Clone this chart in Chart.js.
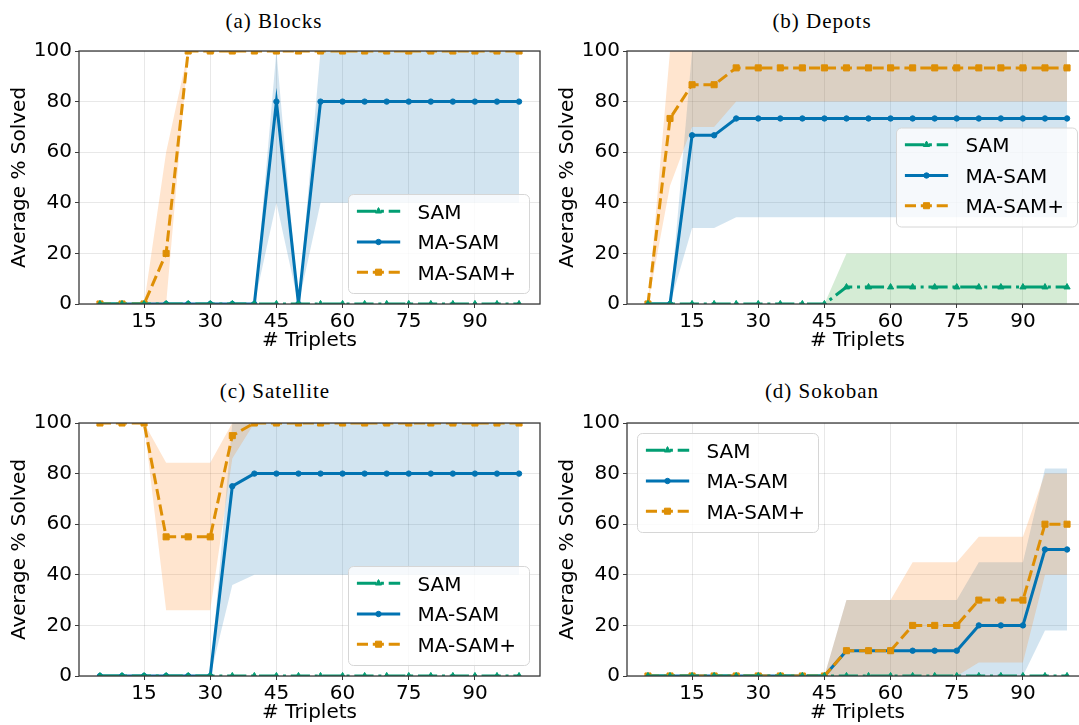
<!DOCTYPE html>
<html>
<head>
<meta charset="utf-8">
<script src="https://cdn.jsdelivr.net/npm/chart.js@4.4.1/dist/chart.umd.min.js"></script>
<style>
  html, body { margin: 0; padding: 0; background: #fff; width: 1079px; height: 725px; overflow: hidden; }
  canvas { position: absolute; }
  .ttl { position: absolute; width: 300px; text-align: center; font-family: 'Liberation Serif', serif; font-size: 21px; letter-spacing: 1px; line-height: 24px; color: #000; }
</style>
</head>
<body>
<div class="ttl" id="t0" style="left:124px; top:9px;"></div>
<div class="ttl" id="t1" style="left:672px; top:9px;"></div>
<div class="ttl" id="t2" style="left:125px; top:379px;"></div>
<div class="ttl" id="t3" style="left:672px; top:379px;"></div>
<canvas id="c0" width="560" height="325" style="left:0px; top:36px;"></canvas>
<canvas id="c1" width="560" height="325" style="left:548px; top:36px;"></canvas>
<canvas id="c2" width="560" height="325" style="left:0px; top:408px;"></canvas>
<canvas id="c3" width="560" height="325" style="left:548px; top:408px;"></canvas>
<script>
// ---------- data ----------
const xValues = [5, 10, 15, 20, 25, 30, 35, 40, 45, 50, 55, 60, 65, 70, 75, 80, 85, 90, 95, 100];
const xTickValues = [15, 30, 45, 60, 75, 90];
const yTickValues = [0, 20, 40, 60, 80, 100];
const seriesNames = ['SAM', 'MA-SAM', 'MA-SAM+'];
const panelTitles = ['(a) Blocks', '(b) Depots', '(c) Satellite', '(d) Sokoban'];
const xAxisTitle = '# Triplets';
const yAxisTitle = 'Average % Solved';

// (a) Blocks
const blocksSAM         = [0,0,0,0,0,0,0,0,0,0,0,0,0,0,0,0,0,0,0,0];
const blocksSAMLow      = [0,0,0,0,0,0,0,0,0,0,0,0,0,0,0,0,0,0,0,0];
const blocksSAMHigh     = [0,0,0,0,0,0,0,0,0,0,0,0,0,0,0,0,0,0,0,0];
const blocksMASAM       = [0,0,0,0,0,0,0,0,80,0,80,80,80,80,80,80,80,80,80,80];
const blocksMASAMLow    = [0,0,0,0,0,0,0,0,40,0,40,40,40,40,40,40,40,40,40,40];
const blocksMASAMHigh   = [0,0,0,0,0,0,0,0,100,0,100,100,100,100,100,100,100,100,100,100];
const blocksPlus        = [0,0,0,20,100,100,100,100,100,100,100,100,100,100,100,100,100,100,100,100];
const blocksPlusLow     = [0,0,0,0,100,100,100,100,100,100,100,100,100,100,100,100,100,100,100,100];
const blocksPlusHigh    = [0,0,0,60,100,100,100,100,100,100,100,100,100,100,100,100,100,100,100,100];

// (b) Depots
const depotsSAM         = [0,0,0,0,0,0,0,0,0,6.67,6.67,6.67,6.67,6.67,6.67,6.67,6.67,6.67,6.67,6.67];
const depotsSAMLow      = [0,0,0,0,0,0,0,0,0,0,0,0,0,0,0,0,0,0,0,0];
const depotsSAMHigh     = [0,0,0,0,0,0,0,0,0,20,20,20,20,20,20,20,20,20,20,20];
const depotsMASAM       = [0,0,66.67,66.67,73.33,73.33,73.33,73.33,73.33,73.33,73.33,73.33,73.33,73.33,73.33,73.33,73.33,73.33,73.33,73.33];
const depotsMASAMLow    = [0,0,30,30,34.3,34.3,34.3,34.3,34.3,34.3,34.3,34.3,34.3,34.3,34.3,34.3,34.3,34.3,34.3,34.3];
const depotsMASAMHigh   = [0,0,100,100,100,100,100,100,100,100,100,100,100,100,100,100,100,100,100,100];
const depotsPlus        = [0,73.33,86.67,86.67,93.33,93.33,93.33,93.33,93.33,93.33,93.33,93.33,93.33,93.33,93.33,93.33,93.33,93.33,93.33,93.33];
const depotsPlusLow     = [0,46.7,70,70,80,80,80,80,80,80,80,80,80,80,80,80,80,80,80,80];
const depotsPlusHigh    = [0,100,100,100,100,100,100,100,100,100,100,100,100,100,100,100,100,100,100,100];

// (c) Satellite
const satSAM            = [0,0,0,0,0,0,0,0,0,0,0,0,0,0,0,0,0,0,0,0];
const satSAMLow         = [0,0,0,0,0,0,0,0,0,0,0,0,0,0,0,0,0,0,0,0];
const satSAMHigh        = [0,0,0,0,0,0,0,0,0,0,0,0,0,0,0,0,0,0,0,0];
const satMASAM          = [0,0,0,0,0,0,75,80,80,80,80,80,80,80,80,80,80,80,80,80];
const satMASAMLow       = [0,0,0,0,0,0,36,40,40,40,40,40,40,40,40,40,40,40,40,40];
const satMASAMHigh      = [0,0,0,0,0,0,100,100,100,100,100,100,100,100,100,100,100,100,100,100];
const satPlus           = [100,100,100,55,55,55,95,100,100,100,100,100,100,100,100,100,100,100,100,100];
const satPlusLow        = [100,100,100,26,26,26,86,100,100,100,100,100,100,100,100,100,100,100,100,100];
const satPlusHigh       = [100,100,100,84.3,84.3,84.3,100,100,100,100,100,100,100,100,100,100,100,100,100,100];

// (d) Sokoban
const sokSAM            = [0,0,0,0,0,0,0,0,0,0,0,0,0,0,0,0,0,0,0,0];
const sokSAMLow         = [0,0,0,0,0,0,0,0,0,0,0,0,0,0,0,0,0,0,0,0];
const sokSAMHigh        = [0,0,0,0,0,0,0,0,0,0,0,0,0,0,0,0,0,0,0,0];
const sokMASAM          = [0,0,0,0,0,0,0,0,0,10,10,10,10,10,10,20,20,20,50,50];
const sokMASAMLow       = [0,0,0,0,0,0,0,0,0,0,0,0,0,0,0,0,0,0,18,18];
const sokMASAMHigh      = [0,0,0,0,0,0,0,0,0,30,30,30,30,30,30,45,45,45,82,82];
const sokPlus           = [0,0,0,0,0,0,0,0,0,10,10,10,20,20,20,30,30,30,60,60];
const sokPlusLow        = [0,0,0,0,0,0,0,0,0,0,0,0,0,0,0,5.3,5.3,5.3,40,40];
const sokPlusHigh       = [0,0,0,0,0,0,0,0,0,30,30,30,45,45,45,55,55,55,80,80];

const legendLocations = ['lower right', 'center right', 'lower right', 'upper left'];

// ---------- styles ----------
const LINE = { SAM: '#029e73', MASAM: '#0173b2', PLUS: '#de8f05' };
const BAND = { SAM: 'rgba(44,160,44,0.2)', MASAM: 'rgba(31,119,180,0.2)', PLUS: 'rgba(255,127,14,0.2)' };
const DASH = { SAM: [19.2, 4.8, 3, 4.8], MASAM: [], PLUS: [11.1, 4.8] };
const MARK = { SAM: ['triangle', 3.6], MASAM: ['circle', 2.7], PLUS: ['rect', 4.3] };
const LW = 3;
const FONT = 'DejaVu Sans';

const pts = arr => arr.map((v, i) => ({ x: xValues[i], y: v }));

function lineDS(key, label, arr) {
  return {
    label, data: pts(arr), borderColor: LINE[key], backgroundColor: LINE[key], borderWidth: LW,
    borderDash: DASH[key], pointStyle: MARK[key][0], pointRadius: MARK[key][1],
    pointBackgroundColor: LINE[key], pointBorderColor: LINE[key], pointBorderWidth: 1,
    fill: false, tension: 0, clip: 0, isLine: true
  };
}
function bandDS(key, lo, hi, loIndex) {
  return [
    { label: key + '-lo', data: pts(lo), borderWidth: 0, borderColor: 'rgba(0,0,0,0)', pointRadius: 0, fill: false, tension: 0, clip: 0 },
    { label: key + '-hi', data: pts(hi), borderWidth: 0, borderColor: 'rgba(0,0,0,0)', pointRadius: 0, backgroundColor: BAND[key], fill: loIndex, tension: 0, clip: 0 }
  ];
}

const spinePlugin = {
  id: 'spines',
  afterDatasetsDraw(chart) {
    const { ctx, chartArea: a } = chart;
    ctx.save();
    ctx.strokeStyle = '#3a3a3a';
    ctx.lineWidth = 1.3;
    ctx.strokeRect(a.left, a.top, a.right - a.left, a.bottom - a.top);
    ctx.restore();
  }
};

function drawMarker(ctx, style, r, x, y) {
  ctx.beginPath();
  if (style === 'circle') ctx.arc(x, y, r, 0, Math.PI * 2);
  else if (style === 'rect') { const s = r * Math.SQRT1_2; ctx.rect(x - s, y - s, 2 * s, 2 * s); }
  else if (style === 'triangle') {
    ctx.moveTo(x, y - r);
    ctx.lineTo(x + r * Math.sin(2 * Math.PI / 3), y - r * Math.cos(2 * Math.PI / 3));
    ctx.lineTo(x + r * Math.sin(4 * Math.PI / 3), y - r * Math.cos(4 * Math.PI / 3));
    ctx.closePath();
  }
  ctx.fill(); ctx.stroke();
}

const legendPlugin = {
  id: 'boxLegend',
  afterDraw(chart, args, opts) {
    const { ctx, chartArea: a } = chart;
    const W = 181, H = 99, m = 10.5;
    let x, y;
    if (opts.loc === 'lower right') { x = a.right - m - W; y = a.bottom - m - H; }
    else if (opts.loc === 'center right') { x = a.right - m - W; y = (a.top + a.bottom) / 2 - H / 2; }
    else { x = a.left + m; y = a.top + m; }
    ctx.save();
    ctx.beginPath();
    ctx.roundRect(x, y, W, H, 5);
    ctx.fillStyle = 'rgba(255,255,255,0.8)';
    ctx.fill();
    ctx.strokeStyle = '#d6d6d6';
    ctx.lineWidth = 1;
    ctx.stroke();
    const keys = ['SAM', 'MASAM', 'PLUS'];
    const rows = [16.7, 47.5, 77.7];
    keys.forEach((k, i) => {
      const ry = y + rows[i];
      ctx.save();
      ctx.strokeStyle = LINE[k];
      ctx.lineWidth = LW;
      ctx.setLineDash(DASH[k]);
      ctx.beginPath();
      ctx.moveTo(x + 8.4, ry);
      ctx.lineTo(x + 51.7, ry);
      ctx.stroke();
      ctx.restore();
      ctx.fillStyle = LINE[k];
      ctx.strokeStyle = LINE[k];
      ctx.lineWidth = 1;
      ctx.setLineDash([]);
      drawMarker(ctx, MARK[k][0], MARK[k][1], x + 30, ry);
      ctx.fillStyle = '#000';
      ctx.font = '20px ' + FONT;
      ctx.textBaseline = 'alphabetic';
      ctx.textAlign = 'left';
      ctx.fillText(seriesNames[i], x + 69, ry + 7.3);
    });
    ctx.restore();
  }
};

function makeChart(id, s, loc) {
  const datasets = [
    lineDS('SAM', seriesNames[0], s.sam),
    lineDS('PLUS', seriesNames[2], s.plus),
    lineDS('MASAM', seriesNames[1], s.masam),
    ...bandDS('PLUS', s.plusLo, s.plusHi, 3),
    ...bandDS('MASAM', s.masamLo, s.masamHi, 5),
    ...bandDS('SAM', s.samLo, s.samHi, 7)
  ];
  return new Chart(document.getElementById(id), {
    type: 'line',
    data: { datasets },
    plugins: [spinePlugin, legendPlugin],
    options: {
      responsive: false, animation: false, events: [],
      layout: { padding: { left: 0, top: 15, right: 20, bottom: 0 } },
      plugins: {
        legend: { display: false }, tooltip: { enabled: false },
        filler: { propagate: false, drawTime: 'beforeDatasetsDraw' },
        boxLegend: { loc }
      },
      scales: {
        x: {
          type: 'linear', min: 0.25, max: 104.75,
          afterBuildTicks: sc => { sc.ticks = xTickValues.map(v => ({ value: v })); },
          afterFit: sc => { sc.height = 57; },
          ticks: { font: { family: FONT, size: 20 }, color: '#000', padding: 2, maxRotation: 0, autoSkip: false },
          grid: { color: 'rgba(0,0,0,0.09)', lineWidth: 1, tickColor: '#3a3a3a', tickLength: 4 },
          border: { display: false },
          title: { display: true, text: xAxisTitle, font: { family: FONT, size: 20 }, color: '#000', padding: { top: 0, bottom: 8 } }
        },
        y: {
          type: 'linear', min: 0, max: 100,
          afterBuildTicks: sc => { sc.ticks = yTickValues.map(v => ({ value: v })); },
          afterFit: sc => { sc.width = 79; },
          ticks: { font: { family: FONT, size: 20 }, color: '#000', padding: 3 },
          grid: { color: 'rgba(0,0,0,0.09)', lineWidth: 1, tickColor: '#3a3a3a', tickLength: 4 },
          border: { display: false },
          title: { display: true, text: yAxisTitle, font: { family: FONT, size: 20 }, color: '#000', padding: { top: 8, bottom: 0 } }
        }
      }
    }
  });
}

panelTitles.forEach((t, i) => { document.getElementById('t' + i).textContent = t; });

makeChart('c0', { sam: blocksSAM, samLo: blocksSAMLow, samHi: blocksSAMHigh, masam: blocksMASAM, masamLo: blocksMASAMLow, masamHi: blocksMASAMHigh, plus: blocksPlus, plusLo: blocksPlusLow, plusHi: blocksPlusHigh }, legendLocations[0]);
makeChart('c1', { sam: depotsSAM, samLo: depotsSAMLow, samHi: depotsSAMHigh, masam: depotsMASAM, masamLo: depotsMASAMLow, masamHi: depotsMASAMHigh, plus: depotsPlus, plusLo: depotsPlusLow, plusHi: depotsPlusHigh }, legendLocations[1]);
makeChart('c2', { sam: satSAM, samLo: satSAMLow, samHi: satSAMHigh, masam: satMASAM, masamLo: satMASAMLow, masamHi: satMASAMHigh, plus: satPlus, plusLo: satPlusLow, plusHi: satPlusHigh }, legendLocations[2]);
makeChart('c3', { sam: sokSAM, samLo: sokSAMLow, samHi: sokSAMHigh, masam: sokMASAM, masamLo: sokMASAMLow, masamHi: sokMASAMHigh, plus: sokPlus, plusLo: sokPlusLow, plusHi: sokPlusHigh }, legendLocations[3]);
</script>
</body>
</html>
